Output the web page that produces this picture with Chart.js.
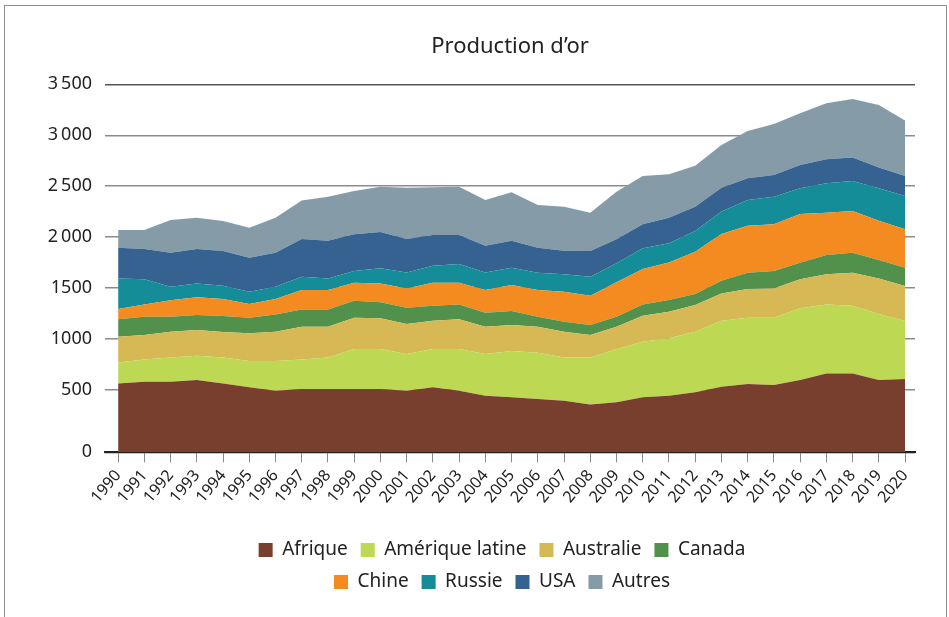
<!DOCTYPE html>
<html lang="fr">
<head>
<meta charset="utf-8">
<title>Production d'or</title>
<script src="https://cdn.jsdelivr.net/npm/chart.js@4.4.1/dist/chart.umd.min.js"></script>
<style>
    html, body { margin: 0; padding: 0; background: #fff; }
    #wrap { position: relative; width: 949px; height: 617px; }
    #frame {
        position: absolute; left: 4px; top: 5px; width: 943px; height: 640px;
        border: 1.5px solid #8c8c8c; border-bottom: none; box-sizing: border-box;
        pointer-events: none;
    }
</style>
</head>
<body>
<div id="wrap">
    <canvas id="goldChart" width="949" height="617"></canvas>
    <div id="frame"></div>
</div>
<script>
// ================================
// Data (tonnes)
// ================================
const years = [1990, 1991, 1992, 1993, 1994, 1995, 1996, 1997, 1998, 1999, 2000,
    2001, 2002, 2003, 2004, 2005, 2006, 2007, 2008, 2009, 2010,
    2011, 2012, 2013, 2014, 2015, 2016, 2017, 2018, 2019, 2020];

const afrique = [566, 582, 582, 599, 566, 527, 494, 510, 510, 510, 510, 494, 527, 494, 445, 429, 412, 396, 360, 380, 429, 445, 478, 533, 559, 550, 599, 664, 664, 599, 608];
const ameriqueLatine = [206, 219, 239, 238, 255, 258, 291, 291, 311, 393, 393, 360, 376, 409, 409, 454, 455, 425, 461, 520, 546, 563, 595, 648, 651, 660, 703, 677, 664, 647, 570];
const australie = [252, 239, 252, 252, 249, 272, 288, 321, 301, 307, 301, 294, 278, 291, 268, 255, 255, 252, 219, 222, 255, 261, 262, 268, 282, 288, 285, 295, 324, 350, 343];
const canada = [170, 180, 147, 148, 157, 153, 170, 170, 170, 167, 157, 161, 147, 147, 137, 138, 98, 98, 98, 98, 111, 115, 108, 124, 160, 170, 163, 189, 196, 180, 180];
const chine = [101, 121, 161, 173, 167, 135, 151, 190, 190, 177, 186, 189, 226, 213, 223, 255, 262, 295, 288, 337, 347, 369, 415, 458, 461, 458, 478, 416, 409, 386, 376];
const russie = [301, 246, 134, 137, 130, 121, 121, 131, 114, 114, 148, 157, 167, 183, 173, 170, 170, 170, 187, 187, 203, 187, 203, 220, 252, 272, 252, 288, 295, 318, 327];
const usa = [301, 297, 333, 337, 341, 333, 333, 369, 370, 360, 356, 327, 301, 285, 262, 265, 245, 232, 252, 235, 235, 252, 239, 235, 213, 212, 229, 235, 229, 203, 197];
const autres = [174, 187, 321, 308, 294, 295, 344, 377, 432, 426, 445, 504, 468, 474, 448, 474, 419, 432, 376, 468, 475, 425, 402, 419, 464, 501, 507, 550, 575, 615, 543];

const seriesNames = ["Afrique", "Amérique latine", "Australie", "Canada", "Chine", "Russie", "USA", "Autres"];
const seriesValues = [afrique, ameriqueLatine, australie, canada, chine, russie, usa, autres];
const seriesColors = ["#793f2e", "#bdd853", "#d6b855", "#52914b", "#f48b21", "#158d98", "#366291", "#859ca8"];

const yTicks = [0, 500, 1000, 1500, 2000, 2500, 3000, 3500];

// ================================
// Helpers
// ================================
const FONT = "'Noto Sans', 'Open Sans', sans-serif";
const Y_MIN = -110; // the 0 line sits a bit below the regular 500 step

function formatTick(v) {
    if (v <= 0) return "0";
    if (v >= 2000) {
        const s = String(v);
        return s.slice(0, s.length - 3) + "\u2009" + s.slice(-3);
    }
    return String(v);
}

// legend: 4 items per row like the original
const legendWrapWidth = 560;
const legendRows = {
    id: "legendRows",
    afterInit(chart) {
        const lg = chart.legend;
        if (!lg) return;
        const fitRows = lg._fitRows;
        lg._fitRows = function () {
            const full = this.maxWidth;
            this.maxWidth = legendWrapWidth;
            const h = fitRows.apply(this, arguments);
            this.maxWidth = full;
            return h;
        };
    },
    afterLayout(chart) {
        // narrow the legend box so the drawing wraps at the same place
        const lg = chart.legend;
        const area = chart.chartArea;
        if (!lg || !area) return;
        const cx = (area.left + area.right) / 2 - 8;
        lg.left = cx - legendWrapWidth / 2;
        lg.right = cx + legendWrapWidth / 2;
        lg.width = legendWrapWidth;
    }
};

// ================================
// Chart
// ================================
const datasets = seriesNames.map((name, i) => ({
    label: name,
    data: seriesValues[i].map((v, j) => ({ x: years[j], y: v })),
    backgroundColor: seriesColors[i],
    borderColor: seriesColors[i],
    borderWidth: 0,
    pointRadius: 0,
    tension: 0,
    fill: i === 0 ? "start" : "-1"
}));

new Chart(document.getElementById("goldChart"), {
    type: "line",
    data: { datasets: datasets },
    plugins: [legendRows],
    options: {
        responsive: false,
        animation: false,
        events: [],
        layout: { padding: { left: 0, right: 34, top: 0, bottom: 15.5 } },
        plugins: {
            title: {
                display: true,
                text: "Production d\u2019or",
                fullSize: false,
                color: "#222",
                font: { family: FONT, size: 22, weight: "normal" },
                padding: { top: 33.8, bottom: 24.1 }
            },
            legend: {
                position: "bottom",
                fullSize: false,
                labels: {
                    color: "#222",
                    font: { family: FONT, size: 19 },
                    boxWidth: 14,
                    boxHeight: 14,
                    padding: 13
                }
            },
            tooltip: { enabled: false }
        },
        scales: {
            x: {
                type: "linear",
                min: 1989.5,
                max: 2020.38,
                afterBuildTicks(scale) {
                    scale.ticks = years.map(v => ({ value: v }));
                },
                afterFit(scale) {
                    scale.height = 75.2;
                },
                grid: {
                    drawOnChartArea: false,
                    drawTicks: true,
                    tickLength: 10,
                    color: "#888"
                },
                border: { display: true, color: "#222", width: 2 },
                ticks: {
                    autoSkip: false,
                    minRotation: 50,
                    maxRotation: 50,
                    padding: 4,
                    color: "#222",
                    font: { family: FONT, size: 16 },
                    callback: v => String(v)
                }
            },
            y: {
                stacked: true,
                min: Y_MIN,
                max: 3500,
                afterBuildTicks(scale) {
                    scale.ticks = yTicks.map(v => ({ value: v === 0 ? Y_MIN : v }));
                },
                afterFit(scale) {
                    scale.width = 105;
                },
                grid: {
                    drawTicks: false,
                    lineWidth: 1.5,
                    color: ctx => (ctx.tick && ctx.tick.value === 3500 ? "#555" : "#8c8c8c")
                },
                border: { display: false },
                ticks: {
                    padding: 13,
                    color: "#222",
                    font: { family: FONT, size: 18 },
                    callback: v => formatTick(v)
                }
            }
        }
    }
});
</script>
</body>
</html>
